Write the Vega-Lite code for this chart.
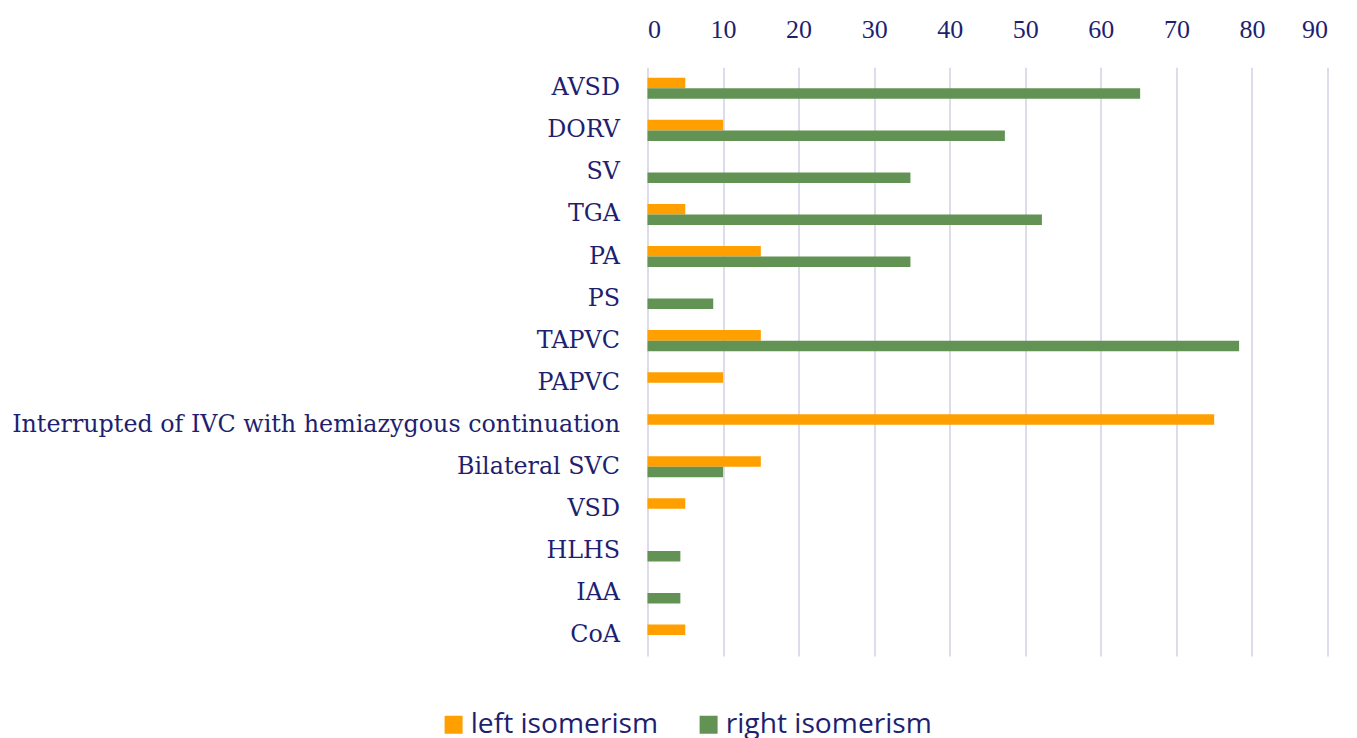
{
  "$schema": "https://vega.github.io/schema/vega-lite/v6.json",
  "width": 680,
  "height": 588.7,
  "autosize": {"type": "none"},
  "padding": {"left": 647.5, "top": 67.3, "right": 29.5, "bottom": 82},
  "background": "white",
  "config": {"view": {"stroke": null}},
  "data": {
    "values": [
      {"defect": "AVSD", "series": "left isomerism", "value": 5},
      {"defect": "AVSD", "series": "right isomerism", "value": 65.2},
      {"defect": "DORV", "series": "left isomerism", "value": 10},
      {"defect": "DORV", "series": "right isomerism", "value": 47.3},
      {"defect": "SV", "series": "right isomerism", "value": 34.8},
      {"defect": "TGA", "series": "left isomerism", "value": 5},
      {"defect": "TGA", "series": "right isomerism", "value": 52.2},
      {"defect": "PA", "series": "left isomerism", "value": 15},
      {"defect": "PA", "series": "right isomerism", "value": 34.8},
      {"defect": "PS", "series": "right isomerism", "value": 8.7},
      {"defect": "TAPVC", "series": "left isomerism", "value": 15},
      {"defect": "TAPVC", "series": "right isomerism", "value": 78.3},
      {"defect": "PAPVC", "series": "left isomerism", "value": 10},
      {"defect": "Interrupted of IVC with hemiazygous continuation", "series": "left isomerism", "value": 75},
      {"defect": "Bilateral SVC", "series": "left isomerism", "value": 15},
      {"defect": "Bilateral SVC", "series": "right isomerism", "value": 10},
      {"defect": "VSD", "series": "left isomerism", "value": 5},
      {"defect": "HLHS", "series": "right isomerism", "value": 4.35},
      {"defect": "IAA", "series": "right isomerism", "value": 4.35},
      {"defect": "CoA", "series": "left isomerism", "value": 5}
    ]
  },
  "mark": {"type": "bar"},
  "encoding": {
    "y": {
      "field": "defect",
      "type": "nominal",
      "sort": ["AVSD", "DORV", "SV", "TGA", "PA", "PS", "TAPVC", "PAPVC", "Interrupted of IVC with hemiazygous continuation", "Bilateral SVC", "VSD", "HLHS", "IAA", "CoA"],
      "scale": {"paddingInner": 0.5, "paddingOuter": 0.25},
      "axis": {
        "title": null,
        "domain": false,
        "ticks": false,
        "grid": false,
        "labelFont": "DejaVu Serif",
        "labelFontSize": 23.8,
        "labelColor": "#1F1F70",
        "labelPadding": 28,
        "labelLimit": 0
      }
    },
    "yOffset": {"field": "series", "type": "nominal", "sort": ["left isomerism", "right isomerism"]},
    "x": {
      "field": "value",
      "type": "quantitative",
      "scale": {"domain": [0, 90], "nice": false},
      "axis": {
        "orient": "top",
        "values": [0, 10, 20, 30, 40, 50, 60, 70, 80, 90],
        "title": null,
        "domain": false,
        "ticks": false,
        "grid": true,
        "gridColor": "#C9C9E2",
        "gridWidth": 1.3,
        "labelFont": "Liberation Serif",
        "labelFontSize": 26,
        "labelColor": "#1F1F70",
        "labelPadding": 25
      }
    },
    "color": {
      "field": "series",
      "type": "nominal",
      "scale": {"domain": ["left isomerism", "right isomerism"], "range": ["#FF9F00", "#629355"]},
      "legend": {
        "orient": "none",
        "legendX": -208,
        "legendY": 643,
        "direction": "horizontal",
        "title": null,
        "symbolType": "square",
        "symbolSize": 324,
        "symbolStrokeWidth": 0,
        "labelFont": "Open Sans",
        "labelFontSize": 28.2,
        "labelColor": "#1F1F70",
        "labelOffset": 3,
        "labelLimit": 0,
        "columnPadding": 36
      }
    }
  }
}
